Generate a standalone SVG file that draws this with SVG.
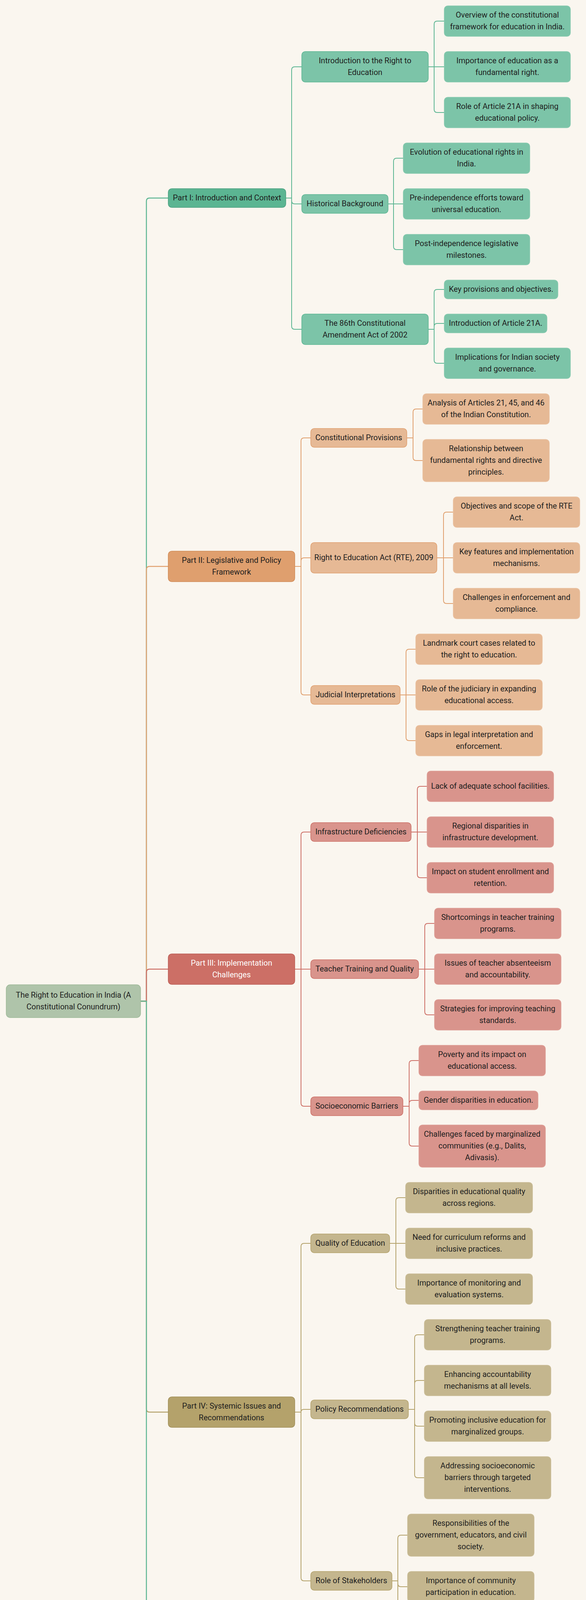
<svg xmlns="http://www.w3.org/2000/svg" width="1501" height="4965" viewBox="0 0 1501 4965">
<style>
.bg{fill:#faf6ef}
rect{stroke-width:1.5}
.root{fill:#afc4aa;stroke:#9db898}
.pg{fill:#5bb592;stroke:#4aa07f}
.g2{fill:#7cc4a8;stroke:#5bb592}
.gl{fill:#7cc4a8;stroke:#86c9ae}
.po{fill:#df9f6e;stroke:#d08a55}
.o2{fill:#e6b995;stroke:#df9f6e}
.ol{fill:#e6b995;stroke:#e9c09f}
.pr{fill:#cc6f66;stroke:#bb5d55}
.r2{fill:#d9948c;stroke:#cc6f66}
.rl{fill:#d9948c;stroke:#dd9d95}
.pt{fill:#b4a26b;stroke:#a08e58}
.t2{fill:#c4b68e;stroke:#b4a26b}
.tl{fill:#c4b68e;stroke:#c9bc97}
text{font-family:Roboto,"Liberation Sans",Arial,sans-serif;font-size:20px;text-anchor:middle;fill:#1e1e1e}
text.w{fill:#ffffff}
path{fill:none;stroke-width:2}
.cg{stroke:#5bb592}
.co{stroke:#e0a06e}
.cr{stroke:#cd6f66}
.ct{stroke:#b4a26b}
.c0{stroke-width:2.5}
</style>
<rect class="bg" x="0" y="0" width="1501" height="4965" style="stroke:none"/>
<g id="connectors">
<path class="cg c0" d="M360,2563 H375 V515 Q375,507 383,507 H431"/>
<path class="co c0" d="M360,2563 H375 V1458 Q375,1450 383,1450 H431"/>
<path class="cr c0" d="M360,2563 H375 V2489 Q375,2481 383,2481 H431"/>
<path class="ct c0" d="M360,2563 H375 V3607 Q375,3615 383,3615 H431"/>
<path class="cg c0" d="M360,2563 H375 V4596 Q375,4604 383,4604 H431"/>
<path class="cg" d="M732,507 H747 V179 Q747,171 755,171 H773"/>
<path class="cg" d="M732,507 H747 V514 Q747,522 755,522 H773"/>
<path class="cg" d="M732,507 H747 V835 Q747,843 755,843 H773"/>
<path class="cg" d="M1097,171 H1112 V62 Q1112,54 1120,54 H1138"/>
<path class="cg" d="M1097,171 H1138"/>
<path class="cg" d="M1097,171 H1112 V280 Q1112,288 1120,288 H1138"/>
<path class="cg" d="M994,522 H1008 V413 Q1008,405 1016,405 H1033"/>
<path class="cg" d="M994,522 H1033"/>
<path class="cg" d="M994,522 H1008 V631 Q1008,639 1016,639 H1033"/>
<path class="cg" d="M1097,843 H1112 V749 Q1112,741 1120,741 H1138"/>
<path class="cg" d="M1097,843 H1112 V836 Q1112,828 1120,828 H1138"/>
<path class="cg" d="M1097,843 H1112 V922 Q1112,930 1120,930 H1138"/>
<path class="co" d="M755,1450 H771 V1129 Q771,1121 779,1121 H796"/>
<path class="co" d="M755,1450 H771 V1436 Q771,1428 779,1428 H796"/>
<path class="co" d="M755,1450 H771 V1771 Q771,1779 779,1779 H796"/>
<path class="co" d="M1042,1121 H1058 V1055 Q1058,1047 1066,1047 H1083"/>
<path class="co" d="M1042,1121 H1058 V1171 Q1058,1179 1066,1179 H1083"/>
<path class="co" d="M1119,1428 H1136 V1319 Q1136,1311 1144,1311 H1161"/>
<path class="co" d="M1119,1428 H1161"/>
<path class="co" d="M1119,1428 H1136 V1537 Q1136,1545 1144,1545 H1161"/>
<path class="co" d="M1025,1779 H1040 V1670 Q1040,1662 1048,1662 H1065"/>
<path class="co" d="M1025,1779 H1065"/>
<path class="co" d="M1025,1779 H1040 V1888 Q1040,1896 1048,1896 H1065"/>
<path class="cr" d="M755,2481 H771 V2138 Q771,2130 779,2130 H796"/>
<path class="cr" d="M755,2481 H796"/>
<path class="cr" d="M755,2481 H771 V2824 Q771,2832 779,2832 H796"/>
<path class="cr" d="M1053,2130 H1069 V2021 Q1069,2013 1077,2013 H1094"/>
<path class="cr" d="M1053,2130 H1094"/>
<path class="cr" d="M1053,2130 H1069 V2239 Q1069,2247 1077,2247 H1094"/>
<path class="cr" d="M1072,2481 H1088 V2372 Q1088,2364 1096,2364 H1113"/>
<path class="cr" d="M1072,2481 H1113"/>
<path class="cr" d="M1072,2481 H1088 V2590 Q1088,2598 1096,2598 H1113"/>
<path class="cr" d="M1032,2832 H1048 V2723 Q1048,2715 1056,2715 H1073"/>
<path class="cr" d="M1032,2832 H1048 V2825 Q1048,2817 1056,2817 H1073"/>
<path class="cr" d="M1032,2832 H1048 V2926 Q1048,2934 1056,2934 H1073"/>
<path class="ct" d="M755,3615 H771 V3191 Q771,3183 779,3183 H796"/>
<path class="ct" d="M755,3615 H771 Q771,3608 778,3608 H796"/>
<path class="ct" d="M755,3615 H771 V4039 Q771,4047 779,4047 H796"/>
<path class="ct" d="M998,3183 H1014 V3074 Q1014,3066 1022,3066 H1039"/>
<path class="ct" d="M998,3183 H1039"/>
<path class="ct" d="M998,3183 H1014 V3292 Q1014,3300 1022,3300 H1039"/>
<path class="ct" d="M1046,3608 H1062 V3425 Q1062,3417 1070,3417 H1087"/>
<path class="ct" d="M1046,3608 H1062 V3542 Q1062,3534 1070,3534 H1087"/>
<path class="ct" d="M1046,3608 H1062 V3643 Q1062,3651 1070,3651 H1087"/>
<path class="ct" d="M1046,3608 H1062 V3775 Q1062,3783 1070,3783 H1087"/>
<path class="ct" d="M1004,4047 H1019 V3938 Q1019,3930 1027,3930 H1044"/>
<path class="ct" d="M1004,4047 H1019 V4054 Q1019,4062 1027,4062 H1044"/>
<path class="ct" d="M1004,4047 H1019 V4171 Q1019,4179 1027,4179 H1044"/>
<path class="cg" d="M755,4604 H771 V4363 Q771,4355 779,4355 H796"/>
<path class="cg" d="M755,4604 H796"/>
<path class="cg" d="M755,4604 H771 V4845 Q771,4853 779,4853 H796"/>
<path class="cg" d="M1009,4355 H1025 V4304 Q1025,4296 1033,4296 H1050"/>
<path class="cg" d="M1009,4355 H1025 V4405 Q1025,4413 1033,4413 H1050"/>
<path class="cg" d="M1072,4604 H1087 V4553 Q1087,4545 1095,4545 H1112"/>
<path class="cg" d="M1072,4604 H1087 V4669 Q1087,4677 1095,4677 H1112"/>
<path class="cg" d="M1056,4853 H1072 V4802 Q1072,4794 1080,4794 H1097"/>
<path class="cg" d="M1056,4853 H1072 V4903 Q1072,4911 1080,4911 H1097"/>
</g>
<g id="root"><rect class="root" x="16" y="2521" width="344" height="84" rx="10"/><text x="188" y="2554">The Right to Education in India (A</text><text x="188" y="2584">Constitutional Conundrum)</text></g>
<g id="part1"><rect class="pg" x="431" y="483" width="301" height="48" rx="9"/><text x="581.5" y="513">Part I: Introduction and Context</text></g>
<g id="p1a"><rect class="g2" x="773" y="132" width="324" height="78" rx="9"/><text x="935" y="162">Introduction to the Right to</text><text x="935" y="192">Education</text></g>
<g id="p1a1"><rect class="gl" x="1138" y="15" width="323" height="78" rx="9"/><text x="1299.5" y="45">Overview of the constitutional</text><text x="1299.5" y="75">framework for education in India.</text></g>
<g id="p1a2"><rect class="gl" x="1138" y="132" width="323" height="78" rx="9"/><text x="1299.5" y="162">Importance of education as a</text><text x="1299.5" y="192">fundamental right.</text></g>
<g id="p1a3"><rect class="gl" x="1138" y="249" width="323" height="78" rx="9"/><text x="1299.5" y="279">Role of Article 21A in shaping</text><text x="1299.5" y="309">educational policy.</text></g>
<g id="p1b"><rect class="g2" x="773" y="498" width="221" height="48" rx="9"/><text x="883.5" y="528">Historical Background</text></g>
<g id="p1b1"><rect class="gl" x="1033" y="366" width="324" height="78" rx="9"/><text x="1195" y="396">Evolution of educational rights in</text><text x="1195" y="426">India.</text></g>
<g id="p1b2"><rect class="gl" x="1033" y="483" width="324" height="78" rx="9"/><text x="1195" y="513">Pre-independence efforts toward</text><text x="1195" y="543">universal education.</text></g>
<g id="p1b3"><rect class="gl" x="1033" y="600" width="324" height="78" rx="9"/><text x="1195" y="630">Post-independence legislative</text><text x="1195" y="660">milestones.</text></g>
<g id="p1c"><rect class="g2" x="773" y="804" width="324" height="78" rx="9"/><text x="935" y="834">The 86th Constitutional</text><text x="935" y="864">Amendment Act of 2002</text></g>
<g id="p1c1"><rect class="gl" x="1138" y="717" width="291" height="48" rx="9"/><text x="1283.5" y="747">Key provisions and objectives.</text></g>
<g id="p1c2"><rect class="gl" x="1138" y="804" width="263" height="48" rx="9"/><text x="1269.5" y="834">Introduction of Article 21A.</text></g>
<g id="p1c3"><rect class="gl" x="1138" y="891" width="323" height="78" rx="9"/><text x="1299.5" y="921">Implications for Indian society</text><text x="1299.5" y="951">and governance.</text></g>
<g id="part2"><rect class="po" x="431" y="1411" width="324" height="78" rx="9"/><text x="593" y="1441">Part II: Legislative and Policy</text><text x="593" y="1471">Framework</text></g>
<g id="p2a"><rect class="o2" x="796" y="1097" width="246" height="48" rx="9"/><text x="919" y="1127">Constitutional Provisions</text></g>
<g id="p2a1"><rect class="ol" x="1083" y="1008" width="324" height="78" rx="9"/><text x="1245" y="1038">Analysis of Articles 21, 45, and 46</text><text x="1245" y="1068">of the Indian Constitution.</text></g>
<g id="p2a2"><rect class="ol" x="1083" y="1125" width="324" height="108" rx="9"/><text x="1245" y="1155">Relationship between</text><text x="1245" y="1185">fundamental rights and directive</text><text x="1245" y="1215">principles.</text></g>
<g id="p2b"><rect class="o2" x="796" y="1389" width="323" height="78" rx="9"/><text x="957.5" y="1434">Right to Education Act (RTE), 2009</text></g>
<g id="p2b1"><rect class="ol" x="1161" y="1272" width="324" height="78" rx="9"/><text x="1323" y="1302">Objectives and scope of the RTE</text><text x="1323" y="1332">Act.</text></g>
<g id="p2b2"><rect class="ol" x="1161" y="1389" width="324" height="78" rx="9"/><text x="1323" y="1419">Key features and implementation</text><text x="1323" y="1449">mechanisms.</text></g>
<g id="p2b3"><rect class="ol" x="1161" y="1506" width="324" height="78" rx="9"/><text x="1323" y="1536">Challenges in enforcement and</text><text x="1323" y="1566">compliance.</text></g>
<g id="p2c"><rect class="o2" x="796" y="1755" width="229" height="48" rx="9"/><text x="910.5" y="1785">Judicial Interpretations</text></g>
<g id="p2c1"><rect class="ol" x="1065" y="1623" width="324" height="78" rx="9"/><text x="1227" y="1653">Landmark court cases related to</text><text x="1227" y="1683">the right to education.</text></g>
<g id="p2c2"><rect class="ol" x="1065" y="1740" width="324" height="78" rx="9"/><text x="1227" y="1770">Role of the judiciary in expanding</text><text x="1227" y="1800">educational access.</text></g>
<g id="p2c3"><rect class="ol" x="1065" y="1857" width="324" height="78" rx="9"/><text x="1227" y="1887">Gaps in legal interpretation and</text><text x="1227" y="1917">enforcement.</text></g>
<g id="part3"><rect class="pr" x="431" y="2442" width="324" height="78" rx="9"/><text class="w" x="593" y="2472">Part III: Implementation</text><text class="w" x="593" y="2502">Challenges</text></g>
<g id="p3a"><rect class="r2" x="796" y="2106" width="257" height="48" rx="9"/><text x="924.5" y="2136">Infrastructure Deficiencies</text></g>
<g id="p3a1"><rect class="rl" x="1094" y="1974" width="324" height="78" rx="9"/><text x="1256" y="2019">Lack of adequate school facilities.</text></g>
<g id="p3a2"><rect class="rl" x="1094" y="2091" width="324" height="78" rx="9"/><text x="1256" y="2121">Regional disparities in</text><text x="1256" y="2151">infrastructure development.</text></g>
<g id="p3a3"><rect class="rl" x="1094" y="2208" width="324" height="78" rx="9"/><text x="1256" y="2238">Impact on student enrollment and</text><text x="1256" y="2268">retention.</text></g>
<g id="p3b"><rect class="r2" x="796" y="2457" width="276" height="48" rx="9"/><text x="934" y="2487">Teacher Training and Quality</text></g>
<g id="p3b1"><rect class="rl" x="1113" y="2325" width="324" height="78" rx="9"/><text x="1275" y="2355">Shortcomings in teacher training</text><text x="1275" y="2385">programs.</text></g>
<g id="p3b2"><rect class="rl" x="1113" y="2442" width="324" height="78" rx="9"/><text x="1275" y="2472">Issues of teacher absenteeism</text><text x="1275" y="2502">and accountability.</text></g>
<g id="p3b3"><rect class="rl" x="1113" y="2559" width="324" height="78" rx="9"/><text x="1275" y="2589">Strategies for improving teaching</text><text x="1275" y="2619">standards.</text></g>
<g id="p3c"><rect class="r2" x="796" y="2808" width="236" height="48" rx="9"/><text x="914" y="2838">Socioeconomic Barriers</text></g>
<g id="p3c1"><rect class="rl" x="1073" y="2676" width="324" height="78" rx="9"/><text x="1235" y="2706">Poverty and its impact on</text><text x="1235" y="2736">educational access.</text></g>
<g id="p3c2"><rect class="rl" x="1073" y="2793" width="305" height="48" rx="9"/><text x="1225.5" y="2823">Gender disparities in education.</text></g>
<g id="p3c3"><rect class="rl" x="1073" y="2880" width="324" height="108" rx="9"/><text x="1235" y="2910">Challenges faced by marginalized</text><text x="1235" y="2940">communities (e.g., Dalits,</text><text x="1235" y="2970">Adivasis).</text></g>
<g id="part4"><rect class="pt" x="431" y="3576" width="324" height="78" rx="9"/><text x="593" y="3606">Part IV: Systemic Issues and</text><text x="593" y="3636">Recommendations</text></g>
<g id="p4a"><rect class="t2" x="796" y="3159" width="202" height="48" rx="9"/><text x="897" y="3189">Quality of Education</text></g>
<g id="p4a1"><rect class="tl" x="1039" y="3027" width="325" height="78" rx="9"/><text x="1201.5" y="3057">Disparities in educational quality</text><text x="1201.5" y="3087">across regions.</text></g>
<g id="p4a2"><rect class="tl" x="1039" y="3144" width="325" height="78" rx="9"/><text x="1201.5" y="3174">Need for curriculum reforms and</text><text x="1201.5" y="3204">inclusive practices.</text></g>
<g id="p4a3"><rect class="tl" x="1039" y="3261" width="325" height="78" rx="9"/><text x="1201.5" y="3291">Importance of monitoring and</text><text x="1201.5" y="3321">evaluation systems.</text></g>
<g id="p4b"><rect class="t2" x="796" y="3584" width="250" height="48" rx="9"/><text x="921" y="3614">Policy Recommendations</text></g>
<g id="p4b1"><rect class="tl" x="1087" y="3378" width="324" height="78" rx="9"/><text x="1249" y="3408">Strengthening teacher training</text><text x="1249" y="3438">programs.</text></g>
<g id="p4b2"><rect class="tl" x="1087" y="3495" width="324" height="78" rx="9"/><text x="1249" y="3525">Enhancing accountability</text><text x="1249" y="3555">mechanisms at all levels.</text></g>
<g id="p4b3"><rect class="tl" x="1087" y="3612" width="324" height="78" rx="9"/><text x="1249" y="3642">Promoting inclusive education for</text><text x="1249" y="3672">marginalized groups.</text></g>
<g id="p4b4"><rect class="tl" x="1087" y="3729" width="324" height="108" rx="9"/><text x="1249" y="3759">Addressing socioeconomic</text><text x="1249" y="3789">barriers through targeted</text><text x="1249" y="3819">interventions.</text></g>
<g id="p4c"><rect class="t2" x="796" y="4023" width="208" height="48" rx="9"/><text x="900" y="4053">Role of Stakeholders</text></g>
<g id="p4c1"><rect class="tl" x="1044" y="3876" width="324" height="108" rx="9"/><text x="1206" y="3906">Responsibilities of the</text><text x="1206" y="3936">government, educators, and civil</text><text x="1206" y="3966">society.</text></g>
<g id="p4c2"><rect class="tl" x="1044" y="4023" width="324" height="78" rx="9"/><text x="1206" y="4053">Importance of community</text><text x="1206" y="4083">participation in education.</text></g>
<g id="p4c3"><rect class="tl" x="1044" y="4140" width="324" height="78" rx="9"/><text x="1206" y="4170">Collaborative approaches to</text><text x="1206" y="4200">achieving educational goals.</text></g>
<g id="part5"><rect class="pg" x="431" y="4565" width="324" height="78" rx="9"/><text x="593" y="4595">Part V: Conclusion and Future</text><text x="593" y="4625">Directions</text></g>
<g id="p5a"><rect class="g2" x="796" y="4331" width="213" height="48" rx="9"/><text x="902.5" y="4361">Summary of Findings</text></g>
<g id="p5a1"><rect class="gl" x="1050" y="4257" width="324" height="78" rx="9"/><text x="1212" y="4287">Recap of key challenges in</text><text x="1212" y="4317">realizing the right to education.</text></g>
<g id="p5a2"><rect class="gl" x="1050" y="4374" width="324" height="78" rx="9"/><text x="1212" y="4404">Progress made since the</text><text x="1212" y="4434">introduction of Article 21A.</text></g>
<g id="p5b"><rect class="g2" x="796" y="4580" width="276" height="48" rx="9"/><text x="934" y="4610">Holistic Approach to Reform</text></g>
<g id="p5b1"><rect class="gl" x="1112" y="4491" width="324" height="108" rx="9"/><text x="1274" y="4521">Need for integrated policies</text><text x="1274" y="4551">addressing both access and</text><text x="1274" y="4581">quality.</text></g>
<g id="p5b2"><rect class="gl" x="1112" y="4638" width="324" height="78" rx="9"/><text x="1274" y="4668">Long-term vision for achieving</text><text x="1274" y="4698">universal education.</text></g>
<g id="p5c"><rect class="g2" x="796" y="4829" width="260" height="48" rx="9"/><text x="926" y="4859">Contributions to Discourse</text></g>
<g id="p5c1"><rect class="gl" x="1097" y="4755" width="324" height="78" rx="9"/><text x="1259" y="4785">Insights for policymakers,</text><text x="1259" y="4815">educators, and researchers.</text></g>
<g id="p5c2"><rect class="gl" x="1097" y="4872" width="324" height="78" rx="9"/><text x="1259" y="4902">Potential areas for future research</text><text x="1259" y="4932">and action.</text></g>
</svg>
